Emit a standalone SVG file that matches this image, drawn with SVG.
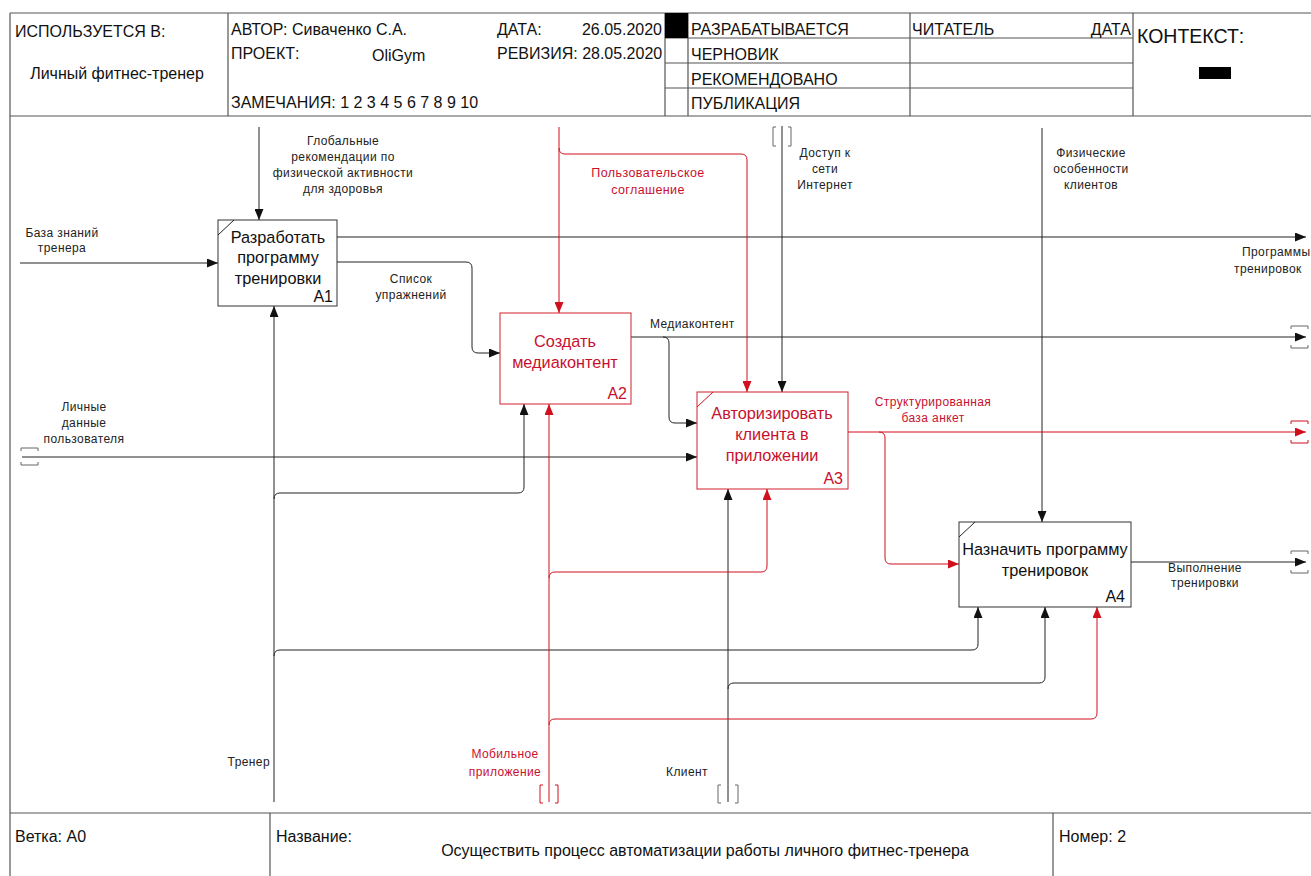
<svg xmlns="http://www.w3.org/2000/svg" width="1311" height="876" viewBox="0 0 1311 876">
<style>
  text { font-family: "Liberation Sans", Arial, sans-serif; fill: #111; }
  .hdr { font-size: 16px; }
  .big { font-size: 19.5px; }
  .box-t { font-size: 16.3px; text-anchor: middle; }
  .num { font-size: 16px; text-anchor: end; }
  .lbl { font-size: 12px; letter-spacing: 0.4px; fill: #222; }
  .mid { text-anchor: middle; }
  .st { text-anchor: start; }
  .en { text-anchor: end; }
  .red { fill: #c8102e; }
  .frame { fill: none; stroke: #555; stroke-width: 1.2; }
  .box { fill: #fff; stroke: #333; stroke-width: 1; }
  .box-r { fill: #fff; stroke: #d0202a; stroke-width: 1; }
  .c { fill: none; stroke: #222; stroke-width: 1; }
  .cr { fill: none; stroke: #d0101c; stroke-width: 1; }
  .tun { fill: none; stroke: #666; stroke-width: 1; }
  .tun-r { fill: none; stroke: #d0101c; stroke-width: 1; }
</style>
<defs>
  <marker id="ab" viewBox="0 0 11 9" refX="11" refY="4.5" markerWidth="11" markerHeight="9" markerUnits="userSpaceOnUse" orient="auto">
    <path d="M0,0 L11,4.5 L0,9 z" fill="#111"/>
  </marker>
  <marker id="ar" viewBox="0 0 11 9" refX="11" refY="4.5" markerWidth="11" markerHeight="9" markerUnits="userSpaceOnUse" orient="auto">
    <path d="M0,0 L11,4.5 L0,9 z" fill="#d0101c"/>
  </marker>
</defs>
<rect width="1311" height="876" fill="#fff"/>

<!-- title block (top) -->
<g id="header">
  <path class="frame" d="M10,13 H1311 M10,13 V876 M10,116 H1311 M228,13 V116 M665,13 V116 M688,13 V116 M910,13 V116 M1133,13 V116 M665,38 H1133 M665,63 H1133 M665,88 H1133"/>
  <rect x="665" y="13" width="23" height="25" fill="#000"/>
  <text class="hdr" x="15" y="37">ИСПОЛЬЗУЕТСЯ В:</text>
  <text class="hdr mid" x="117" y="79">Личный фитнес-тренер</text>
  <text class="hdr" x="231" y="35">АВТОР: Сиваченко С.А.</text>
  <text class="hdr" x="231" y="59">ПРОЕКТ:</text>
  <text class="hdr" x="372" y="61">OliGym</text>
  <text class="hdr" x="231" y="108">ЗАМЕЧАНИЯ: 1 2 3 4 5 6 7 8 9 10</text>
  <text class="hdr" x="497" y="35">ДАТА:</text>
  <text class="hdr en" x="662" y="35">26.05.2020</text>
  <text class="hdr" x="497" y="59">РЕВИЗИЯ: 28.05.2020</text>
  <text class="hdr" x="691" y="35">РАЗРАБАТЫВАЕТСЯ</text>
  <text class="hdr" x="691" y="60">ЧЕРНОВИК</text>
  <text class="hdr" x="691" y="85">РЕКОМЕНДОВАНО</text>
  <text class="hdr" x="691" y="109">ПУБЛИКАЦИЯ</text>
  <text class="hdr" x="912" y="35">ЧИТАТЕЛЬ</text>
  <text class="hdr en" x="1131" y="35">ДАТА</text>
  <text class="big" x="1137" y="43">КОНТЕКСТ:</text>
  <rect x="1199" y="67" width="32" height="12" fill="#000"/>
</g>

<!-- title block (bottom) -->
<g id="footer">
  <path class="frame" d="M10,813 H1311 M270,813 V876 M1053,813 V876"/>
  <text class="hdr" x="15" y="842">Ветка: A0</text>
  <text class="hdr" x="276" y="842">Название:</text>
  <text class="hdr mid" x="705" y="856">Осуществить процесс автоматизации работы личного фитнес-тренера</text>
  <text class="hdr" x="1059" y="842">Номер: 2</text>
</g>

<!-- arrows -->
<g id="connectors">
  <!-- black arrows -->
  <path class="c" d="M259,127 V220" marker-end="url(#ab)"/>
  <path class="c" d="M20,263 H218" marker-end="url(#ab)"/>
  <path class="c" d="M337,237 H1306" marker-end="url(#ab)"/>
  <path class="c" d="M337,262 H466 Q472,262 472,268 V347 Q472,353 478,353 H500" marker-end="url(#ab)"/>
  <path class="c" d="M274,802 V306" marker-end="url(#ab)"/>
  <path class="c" d="M274,499 Q274,493 280,493 H518 Q524,493 524,487 V404" marker-end="url(#ab)"/>
  <path class="c" d="M274,656 Q274,650 280,650 H972 Q978,650 978,644 V607" marker-end="url(#ab)"/>
  <path class="c" d="M782,126 V392" marker-end="url(#ab)"/>
  <path class="c" d="M1042,128 V522" marker-end="url(#ab)"/>
  <path class="c" d="M631,337 H1306" marker-end="url(#ab)"/>
  <path class="c" d="M663,337 Q669,337 669,343 V417 Q669,423 675,423 H697" marker-end="url(#ab)"/>
  <path class="c" d="M22,457 H697" marker-end="url(#ab)"/>
  <path class="c" d="M728,802 V489" marker-end="url(#ab)"/>
  <path class="c" d="M728,689 Q728,683 734,683 H1039 Q1045,683 1045,677 V607" marker-end="url(#ab)"/>
  <path class="c" d="M1131,562 H1306" marker-end="url(#ab)"/>
  <!-- red arrows -->
  <path class="cr" d="M559,127 V313" marker-end="url(#ar)"/>
  <path class="cr" d="M559,148 Q559,154 565,154 H741 Q747,154 747,160 V392" marker-end="url(#ar)"/>
  <path class="cr" d="M848,432 H1306" marker-end="url(#ar)"/>
  <path class="cr" d="M879,432 Q885,432 885,438 V558 Q885,564 891,564 H959" marker-end="url(#ar)"/>
  <path class="cr" d="M549,802 V404" marker-end="url(#ar)"/>
  <path class="cr" d="M549,578 Q549,572 555,572 H761 Q767,572 767,566 V489" marker-end="url(#ar)"/>
  <path class="cr" d="M549,725 Q549,719 555,719 H1091 Q1097,719 1097,713 V607" marker-end="url(#ar)"/>
  <!-- tunnel brackets -->
  <path class="tun" d="M776,127 H773 V146 H776 M788,127 H791 V146 H788"/>
  <path class="tun" d="M21,451 V448 H38 V451 M21,462 V465 H38 V462"/>
  <path class="tun" d="M1291,329 V326 H1308 V329 M1291,345 V348 H1308 V345"/>
  <path class="tun" d="M1291,554 V551 H1308 V554 M1291,570 V573 H1308 V570"/>
  <path class="tun-r" d="M1291,424 V421 H1308 V424 M1291,440 V443 H1308 V440"/>
  <path class="tun-r" d="M543,785 H540 V803 H543 M555,785 H558 V803 H555"/>
  <path class="tun" d="M721,785 H718 V803 H721 M735,785 H738 V803 H735"/>
  <!-- arrow labels -->
  <text class="lbl mid" x="343" y="145">Глобальные</text>
  <text class="lbl mid" x="343" y="161">рекомендации по</text>
  <text class="lbl mid" x="343" y="177">физической активности</text>
  <text class="lbl mid" x="343" y="193">для здоровья</text>
  <text class="lbl mid" x="62" y="237">База знаний</text>
  <text class="lbl mid" x="62" y="252">тренера</text>
  <text class="lbl mid" x="411" y="283">Список</text>
  <text class="lbl mid" x="411" y="299">упражнений</text>
  <text class="lbl mid red" x="648" y="177" style="font-size:12.5px">Пользовательское</text>
  <text class="lbl mid red" x="648" y="194" style="font-size:12.5px">соглашение</text>
  <text class="lbl mid" x="825" y="157">Доступ к</text>
  <text class="lbl mid" x="825" y="173">сети</text>
  <text class="lbl mid" x="825" y="189">Интернет</text>
  <text class="lbl mid" x="1091" y="157">Физические</text>
  <text class="lbl mid" x="1091" y="173">особенности</text>
  <text class="lbl mid" x="1091" y="189">клиентов</text>
  <text class="lbl st" x="1242" y="256">Программы</text>
  <text class="lbl st" x="1234" y="273">тренировок</text>
  <text class="lbl st" x="650" y="328">Медиаконтент</text>
  <text class="lbl mid" x="84" y="411">Личные</text>
  <text class="lbl mid" x="84" y="427">данные</text>
  <text class="lbl mid" x="84" y="443">пользователя</text>
  <text class="lbl mid red" x="933" y="406">Структурированная</text>
  <text class="lbl mid red" x="933" y="422">база анкет</text>
  <text class="lbl mid" x="1205" y="572">Выполнение</text>
  <text class="lbl mid" x="1205" y="587">тренировки</text>
  <text class="lbl en" x="270" y="766">Тренер</text>
  <text class="lbl mid red" x="505" y="758">Мобильное</text>
  <text class="lbl mid red" x="505" y="776">приложение</text>
  <text class="lbl mid" x="687" y="776">Клиент</text>
</g>

<!-- activity boxes -->
<g id="A1">
  <rect class="box" x="218" y="220" width="119" height="86"/>
  <path class="c" d="M218,235 L234,220"/>
  <text class="box-t" x="278" y="243">Разработать</text>
  <text class="box-t" x="278" y="263">программу</text>
  <text class="box-t" x="278" y="284">тренировки</text>
  <text class="num" x="333" y="302">A1</text>
</g>
<g id="A2">
  <rect class="box-r" x="500" y="313" width="131" height="91"/>
  <text class="box-t red" x="565" y="347">Создать</text>
  <text class="box-t red" x="565" y="368">медиаконтент</text>
  <text class="num red" x="627" y="399">A2</text>
</g>
<g id="A3">
  <rect class="box-r" x="697" y="392" width="151" height="97"/>
  <path class="cr" d="M697,407 L713,392"/>
  <text class="box-t red" x="772" y="419">Авторизировать</text>
  <text class="box-t red" x="772" y="440">клиента в</text>
  <text class="box-t red" x="772" y="461">приложении</text>
  <text class="num red" x="843" y="484">A3</text>
</g>
<g id="A4">
  <rect class="box" x="959" y="522" width="172" height="85"/>
  <path class="c" d="M959,537 L975,522"/>
  <text class="box-t" x="1045" y="555">Назначить программу</text>
  <text class="box-t" x="1045" y="576">тренировок</text>
  <text class="num" x="1125" y="602">A4</text>
</g>
</svg>
